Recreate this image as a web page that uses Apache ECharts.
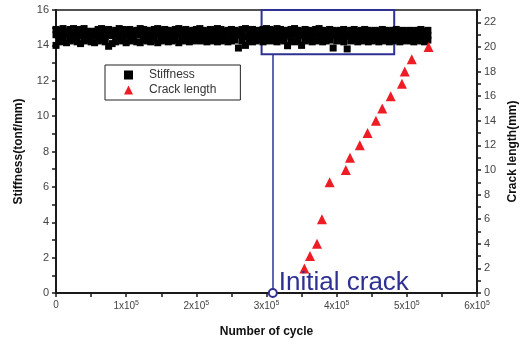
<!DOCTYPE html>
<html><head><meta charset="utf-8">
<script src="https://cdn.jsdelivr.net/npm/echarts@6/dist/echarts.min.js"></script>
<style>html,body{margin:0;padding:0;background:#fff}#c{width:522px;height:344px}</style>
</head><body><div id="c"></div>
<script>
// ---- data ----
var cyclesK = [0,5,10,15,20,25,30,35,40,45,50,
55,60,65,70,75,80,85,90,95,100,
105,110,115,120,125,130,135,140,145,150,
155,160,165,170,175,180,185,190,195,200,
205,210,215,220,225,230,235,240,245,250,
255,260,265,270,275,280,285,290,295,300,
305,310,315,320,325,330,335,340,345,350,
355,360,365,370,375,380,385,390,395,400,
405,410,415,420,425,430,435,440,445,450,
455,460,465,470,475,480,485,490,495,500,
505,510,515,520,525,530];
var stiffHigh = [14.9,14.85,14.95,14.8,14.9,14.95,14.85,14.9,14.95,14.8,14.75,
14.8,14.9,14.95,14.85,14.9,14.75,14.85,14.95,14.9,14.85,
14.9,14.8,14.85,14.95,14.9,14.85,14.8,14.9,14.95,14.85,
14.9,14.85,14.8,14.9,14.95,14.85,14.9,14.8,14.85,14.9,
14.95,14.85,14.8,14.9,14.85,14.95,14.9,14.8,14.85,14.9,
14.85,14.8,14.9,14.95,14.85,14.9,14.8,14.85,14.9,14.95,
14.9,14.85,14.95,14.9,14.8,14.85,14.9,14.95,14.85,14.8,
14.9,14.85,14.8,14.9,14.95,14.85,14.8,14.9,14.85,14.8,
14.85,14.9,14.8,14.85,14.9,14.8,14.85,14.9,14.85,14.8,
14.85,14.8,14.9,14.85,14.8,14.85,14.9,14.8,14.85,14.8,
14.85,14.8,14.85,14.9,14.8,14.85];
var stiffMid = [14.6,14.55,14.65,14.6,14.5,14.6,14.65,14.55,14.6,14.5,14.6,
14.55,14.6,14.65,14.5,14.6,14.55,14.6,14.65,14.55,14.6,
14.6,14.55,14.65,14.6,14.5,14.6,14.55,14.65,14.6,14.55,
14.55,14.6,14.5,14.65,14.6,14.55,14.6,14.5,14.6,14.65,
14.6,14.55,14.6,14.65,14.5,14.6,14.55,14.6,14.65,14.55,
14.55,14.6,14.65,14.5,14.6,14.55,14.6,14.65,14.55,14.6,
14.6,14.55,14.65,14.6,14.5,14.6,14.55,14.65,14.6,14.55,
14.55,14.6,14.5,14.65,14.6,14.55,14.6,14.5,14.6,14.55,
14.6,14.55,14.6,14.5,14.55,14.6,14.5,14.55,14.6,14.5,
14.55,14.6,14.5,14.55,14.6,14.5,14.55,14.6,14.5,14.55,
14.6,14.55,14.6,14.5,14.6,14.55];
var stiffLow = [14.0,14.2,14.3,14.15,14.25,14.3,14.2,14.1,14.25,14.3,14.2,
14.15,14.25,14.3,14.2,13.95,14.1,14.2,14.3,14.25,14.15,
14.25,14.3,14.2,14.15,14.3,14.25,14.2,14.3,14.15,14.25,
14.3,14.2,14.25,14.3,14.15,14.25,14.3,14.2,14.25,14.3,
14.25,14.3,14.2,14.25,14.3,14.2,14.25,14.3,14.2,14.25,
14.3,13.85,14.25,14.0,14.3,14.2,14.25,14.3,14.2,14.25,
14.3,14.25,14.2,14.3,14.25,13.98,14.3,14.2,14.25,14.0,
14.25,14.3,14.2,14.25,14.3,14.2,14.25,14.3,13.85,14.25,
14.3,14.2,13.8,14.25,14.3,14.2,14.25,14.3,14.2,14.25,
14.3,14.2,14.25,14.3,14.2,14.25,14.3,14.2,14.25,14.3,
14.25,14.2,14.3,14.25,14.2,14.3];
var crackCycles = [354000,362000,372000,379000,390000,413000,419000,433000,444000,456000,465000,477000,493000,497000,507000,531000];
var crackLength = [2,3,4,6,9,10,11,12,13,14,15,16,17,18,19,20];
var initialCrackCycle = 309000;
var boxCycles = [293000,482000];
var boxStiff = [13.5,16];
var xTickBase = ['0','1x10','2x10','3x10','4x10','5x10','6x10'];
var xTickExp  = ['','5','5','5','5','5','5'];
var leftTicks = ['0','2','4','6','8','10','12','14','16'];
var rightTicks = ['0','2','4','6','8','10','12','14','16','18','20','22'];

// ---- build ----
var stiffData = [];
[stiffHigh, stiffMid, stiffLow].forEach(function(arr){
  for (var i=0;i<cyclesK.length;i++) stiffData.push([cyclesK[i]*1000, arr[i]]);
});
var crackData = crackCycles.map(function(c,i){return [c, crackLength[i]];});
var blue = '#2e3192';
var ff = '"Liberation Sans", Arial, sans-serif';
var axisLineStyle = {color:'#1a1a1a', width:2};

var chart = echarts.init(document.getElementById('c'));
chart.setOption({
  animation:false,
  grid:{left:56, right:45, top:10, bottom:51, show:true, borderColor:'#1a1a1a', borderWidth:1.5, outerBoundsMode:'none', containLabel:false},
  legend:{
    left:105, top:65, orient:'vertical', itemGap:3,
    borderColor:'#222', borderWidth:1, borderRadius:0,
    padding:[4,24,4,19], itemWidth:9, itemHeight:9,
    textStyle:{fontFamily:ff, fontSize:12, color:'#333', padding:[0,0,0,11]},
    data:[{name:'Stiffness', icon:'rect', itemStyle:{color:'#000', opacity:1}}, {name:'Crack length', icon:'triangle', itemStyle:{opacity:1}}]
  },
  xAxis:{
    type:'value', min:0, max:600000, interval:100000,
    name:'Number of cycle', nameLocation:'middle', nameGap:33,
    nameTextStyle:{fontFamily:ff, fontWeight:'bold', fontSize:12, color:'#111'},
    axisLine:{lineStyle:axisLineStyle},
    axisTick:{show:true, length:4, lineStyle:{color:'#1a1a1a', width:1.5}},
    minorTick:{show:true, splitNumber:2, length:4, lineStyle:{color:'#1a1a1a', width:1.5}},
    splitLine:{show:false},
    axisLabel:{margin:7, color:'#444', fontFamily:ff, fontSize:10,
      formatter:function(v){var i=Math.round(v/100000); if(!xTickExp[i]) return xTickBase[i]; return '{b|'+xTickBase[i]+'}{s|'+xTickExp[i]+'}';},
      rich:{b:{fontSize:10, color:'#444', fontFamily:ff}, s:{fontSize:7, color:'#444', fontFamily:ff, verticalAlign:'top', padding:[0,0,6,0]}}}
  },
  yAxis:[{
    type:'value', min:0, max:16, interval:2, position:'left',
    name:'Stiffness(tonf/mm)', nameLocation:'middle', nameGap:31, nameRotate:90,
    nameTextStyle:{fontFamily:ff, fontWeight:'bold', fontSize:12, color:'#111'},
    axisLine:{show:true, lineStyle:axisLineStyle},
    axisTick:{show:true, length:4, lineStyle:{color:'#1a1a1a', width:1.5}},
    minorTick:{show:true, splitNumber:2, length:4, lineStyle:{color:'#1a1a1a', width:1.5}},
    splitLine:{show:false},
    axisLabel:{margin:7, color:'#444', fontFamily:ff, fontSize:11, formatter:function(v){return leftTicks[v/2]||'';}}
  },{
    type:'value', min:0, max:23, interval:2, position:'right',
    name:'Crack length(mm)', nameLocation:'middle', nameGap:29, nameRotate:90,
    nameTextStyle:{fontFamily:ff, fontWeight:'bold', fontSize:12, color:'#111'},
    axisLine:{show:true, lineStyle:axisLineStyle},
    axisTick:{show:true, length:4, lineStyle:{color:'#1a1a1a', width:1.5}},
    minorTick:{show:true, splitNumber:2, length:4, lineStyle:{color:'#1a1a1a', width:1.5}},
    splitLine:{show:false},
    axisLabel:{margin:7, color:'#444', fontFamily:ff, fontSize:11, formatter:function(v){return (v%2===0)?(rightTicks[v/2]||''):'';}}
  }],
  series:[{
    name:'Stiffness', type:'scatter', yAxisIndex:0, symbol:'rect', symbolSize:7,
    itemStyle:{color:'#000', opacity:1}, data:stiffData, z:3,
    markArea:{silent:true, itemStyle:{color:'rgba(0,0,0,0)', borderColor:blue, borderWidth:2, opacity:1},
      data:[[{coord:[boxCycles[0], boxStiff[0]]},{coord:[boxCycles[1], boxStiff[1]]}]]},
    markLine:{silent:true, symbol:['none','arrow'], symbolSize:[0,7], label:{show:false},
      lineStyle:{color:blue, width:1.5, type:'solid', opacity:1},
      data:[[{coord:[initialCrackCycle,0]},{coord:[initialCrackCycle,boxStiff[0]]}]]}
  },{
    name:'Crack length', type:'scatter', yAxisIndex:1, symbol:'triangle', symbolSize:10,
    itemStyle:{color:'#ee1c24', opacity:1}, data:crackData, z:4
  },{
    name:'Initial crack', type:'scatter', yAxisIndex:0, symbol:'emptyCircle', symbolSize:8,
    itemStyle:{color:blue, borderColor:blue, borderWidth:2, opacity:1}, data:[[initialCrackCycle,0]], z:5,
    label:{show:true, position:'right', distance:1, offset:[0,-10], formatter:'Initial crack',
      fontFamily:ff, fontSize:26, color:blue, opacity:1}
  }]
});
</script></body></html>
